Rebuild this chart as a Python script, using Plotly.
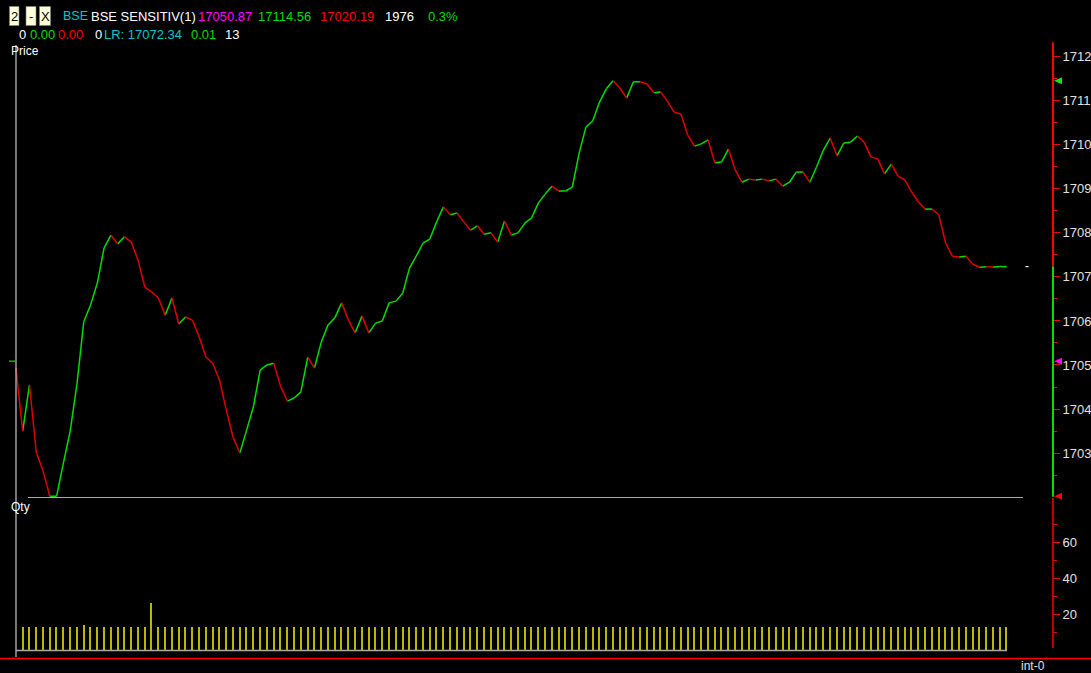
import plotly.graph_objects as go

# ---------------- data ----------------
price = [
    17049.3, 17035.0, 17045.5, 17030.2, 17025.9, 17020.2, 17020.2, 17027.7, 17035.0, 17045.7,
    17059.8, 17063.6, 17068.6, 17076.6, 17079.5, 17077.5, 17079.1, 17077.9, 17073.8, 17067.7,
    17066.6, 17065.2, 17061.3, 17065.2, 17059.3, 17060.9, 17060.2, 17056.4, 17051.8, 17050.4,
    17046.6, 17039.8, 17033.6, 17030.0, 17035.2, 17040.5, 17048.9, 17050.0, 17050.4, 17045.2,
    17041.8, 17042.5, 17043.9, 17051.8, 17049.3, 17055.2, 17059.1, 17060.7, 17064.1, 17060.2,
    17057.3, 17061.1, 17057.3, 17059.5, 17060.0, 17064.1, 17064.5, 17066.3, 17072.0, 17074.7,
    17077.7, 17078.6, 17082.5, 17085.9, 17084.1, 17084.5, 17082.5, 17080.6, 17081.6, 17079.7,
    17080.0, 17077.9, 17082.7, 17079.5, 17080.0, 17082.2, 17083.4, 17086.8, 17088.8, 17090.6,
    17089.5, 17089.5, 17090.4, 17098.1, 17104.0, 17105.4, 17109.7, 17112.7, 17114.56, 17112.9,
    17110.6, 17114.3, 17114.3, 17113.8, 17111.8, 17112.0, 17109.9, 17107.4, 17107.0, 17102.2,
    17099.7, 17100.2, 17101.1, 17095.9, 17096.1, 17099.0, 17094.3, 17091.5, 17092.2, 17092.0,
    17092.2, 17091.8, 17092.2, 17090.6, 17091.5, 17093.8, 17093.8, 17091.5, 17095.0, 17098.8,
    17101.5, 17097.5, 17100.4, 17100.6, 17102.0, 17100.6, 17097.2, 17096.8, 17093.4, 17095.6,
    17092.9, 17092.0, 17089.3, 17087.0, 17085.4, 17085.4, 17084.1, 17077.7, 17074.7, 17074.5,
    17074.7, 17072.9, 17072.2, 17072.3, 17072.25, 17072.34, 17072.34,
]

qty = [
    13, 13, 13, 13, 13, 13, 13, 13, 13, 14, 13, 13, 13, 13, 13, 13, 13, 13, 13, 26,
    13, 13, 13, 13, 13, 13, 13, 13, 13, 13, 13, 13, 13, 13, 13, 13, 13, 13, 13, 13,
    13, 13, 13, 13, 13, 13, 13, 13, 13, 13, 13, 13, 13, 13, 13, 13, 13, 13, 13, 13,
    13, 13, 13, 13, 13, 13, 13, 13, 13, 13, 13, 13, 13, 13, 13, 13, 13, 13, 13, 13,
    13, 13, 13, 13, 13, 13, 13, 13, 13, 13, 13, 13, 13, 13, 13, 13, 13, 13, 13, 13,
    13, 13, 13, 13, 13, 13, 13, 13, 13, 13, 13, 13, 13, 13, 13, 13, 13, 13, 13, 13,
    13, 13, 13, 13, 13, 13, 13, 13, 13, 13, 13, 13, 13, 13, 13, 13, 13, 13, 13, 13,
    13, 13, 13, 13, 13, 13,
]

OPEN, HIGH, LOW, LAST = 17050.87, 17114.56, 17020.19, 17072.34
price_ticks = [17030, 17040, 17050, 17060, 17070, 17080, 17090, 17100, 17110, 17120]
price_ticktext = ["1703", "1704", "1705", "1706", "1707", "1708", "1709", "1710", "1711", "1712"]
price_minor = [17025, 17035, 17045, 17055, 17065, 17075, 17085, 17095, 17105, 17115]
qty_ticks = [20, 40, 60]
qty_minor = [10, 30, 50, 70]

# ---------------- styling / layout constants ----------------
W, H = 1091, 673
FONT = "Liberation Sans, Arial, sans-serif"
GREEN = "#00dd00"
RED = "#e00000"


def px(x):
    return x / W


def py(y):
    return 1 - y / H


# pixel mapping of the axes
X0_PIX, X_STEP = 15.9, 6.786
Y_REF_PRICE, Y_REF_PIX, Y_SCALE = 17120, 56.7, 4.404
Q_BASE_PIX, Q_SCALE = 650, 1.8

x_range = [-X0_PIX / X_STEP, (W - X0_PIX) / X_STEP]
y_range = [Y_REF_PRICE - (H - Y_REF_PIX) / Y_SCALE, Y_REF_PRICE + Y_REF_PIX / Y_SCALE]
q_range = [-(H - Q_BASE_PIX) / Q_SCALE, Q_BASE_PIX / Q_SCALE]

# ---------------- traces ----------------
gx, gy, rx, ry = [], [], [], []
for i in range(len(price) - 1):
    if price[i + 1] >= price[i]:
        gx += [i, i + 1, None]
        gy += [price[i], price[i + 1], None]
    else:
        rx += [i, i + 1, None]
        ry += [price[i], price[i + 1], None]

fig = go.Figure()
fig.add_trace(go.Bar(
    x=list(range(1, len(qty) + 1)), y=qty, width=0.2,
    marker=dict(color="#b8b800", line=dict(width=0)),
    yaxis="y2", hoverinfo="skip", showlegend=False,
))
fig.add_trace(go.Scatter(x=gx, y=gy, mode="lines", line=dict(color=GREEN, width=1.5),
                         connectgaps=False, showlegend=False, hoverinfo="skip"))
fig.add_trace(go.Scatter(x=rx, y=ry, mode="lines", line=dict(color=RED, width=1.5),
                         connectgaps=False, showlegend=False, hoverinfo="skip"))

# ---------------- shapes ----------------
shapes = []
AX = px(1053)
# left gray frame line
shapes.append(dict(type="line", xref="paper", yref="paper", x0=px(16), x1=px(16),
                   y0=py(45), y1=py(657), line=dict(color="#c8c8c8", width=1.2)))
# panel separator
shapes.append(dict(type="line", xref="paper", yref="paper", x0=px(28), x1=px(1023),
                   y0=py(497.5), y1=py(497.5), line=dict(color="#a8a8a8", width=1.2)))
# qty base line
shapes.append(dict(type="line", xref="paper", yref="paper", x0=px(16), x1=px(1007),
                   y0=py(650.5), y1=py(650.5), line=dict(color="#a8a8a8", width=1.6)))
# bottom red line
shapes.append(dict(type="line", xref="paper", yref="paper", x0=0, x1=1,
                   y0=py(658.5), y1=py(658.5), line=dict(color="#ff0000", width=1.5)))
# price axis line (red above last, green below)
shapes.append(dict(type="line", xref="paper", yref="y", x0=AX, x1=AX,
                   y0=LAST, y1=17123.3, line=dict(color="#ff0000", width=2)))
shapes.append(dict(type="line", xref="paper", yref="y", x0=AX, x1=AX,
                   y0=LOW - 0.1, y1=LAST, line=dict(color="#00dd00", width=2)))
# qty axis line
shapes.append(dict(type="line", xref="paper", yref="paper", x0=AX, x1=AX,
                   y0=py(498), y1=py(648), line=dict(color="#ff0000", width=1.5)))


# markers on the axis
def tri(val, color):
    d = 3.5 / Y_SCALE
    return dict(type="path", xref="paper", yref="y",
                path=f"M {px(1054)},{val} L {px(1062)},{val + d} L {px(1062)},{val - d} Z",
                fillcolor=color, line=dict(color=color, width=0))


shapes.append(tri(HIGH, "#00ee00"))
shapes.append(tri(OPEN, "#ff00ff"))
shapes.append(tri(LOW, "#ff0000"))
# open tick on the left and last-price dash on the right
shapes.append(dict(type="line", xref="paper", yref="y", x0=px(9), x1=px(15),
                   y0=OPEN, y1=OPEN, line=dict(color="#00dd00", width=1.2)))
shapes.append(dict(type="line", xref="paper", yref="y", x0=px(1025.5), x1=px(1028.5),
                   y0=LAST, y1=LAST, line=dict(color="#ffffff", width=1.2)))
# header boxes
for (a, b) in [(9.5, 19), (26, 36), (39.5, 50.5)]:
    shapes.append(dict(type="rect", xref="paper", yref="paper", x0=px(a), x1=px(b),
                       y0=py(25.5), y1=py(6.5), fillcolor="#ffffd8",
                       line=dict(color="#808080", width=0.6), layer="below"))

# ---------------- annotations ----------------
ann = []


def txt(x, y, s, color, size=13, anchor="left"):
    ann.append(dict(text=s, x=px(x), y=py(y), xref="paper", yref="paper",
                    xanchor=anchor, yanchor="middle", showarrow=False,
                    font=dict(family=FONT, size=size, color=color)))


txt(14.3, 16, "2", "#000000", anchor="center")
txt(31, 16, "-", "#000000", anchor="center")
txt(45, 16, "X", "#000000", anchor="center")
txt(61, 16, "BSE", "#00c8c8", size=12.5)
txt(89, 16, "BSE SENSITIV(1)", "#ffffff")
txt(196, 16, f"{OPEN:.2f}", "#ff00ff")
txt(256, 16, f"{HIGH:.2f}", "#00dd00")
txt(318, 16, f"{LOW:.2f}", "#ff0000")
txt(383, 16, "1976", "#ffffff")
txt(426, 16, "0.3%", "#00dd00")

txt(17, 34, "0", "#ffffff")
txt(28, 34, "0.00", "#00dd00")
txt(56, 34, "0.00", "#ff0000")
txt(93, 34, "0", "#ffffff")
txt(102, 34, f"LR: {LAST:.2f}", "#00c8c8")
txt(189, 34, "0.01", "#00dd00")
txt(223, 34, str(qty[-1]), "#ffffff")

txt(9, 51, "Price", "#ffffff", size=12)
txt(9, 507, "Qty", "#ffffff", size=12)
txt(1019, 666, "int-0", "#e0e0e0", size=12)

# ---------------- layout ----------------
axis_font = dict(family=FONT, size=13, color="#e0e0e0")
fig.update_layout(
    width=W, height=H,
    margin=dict(l=0, r=0, t=0, b=0),
    paper_bgcolor="#000000", plot_bgcolor="#000000",
    showlegend=False,
    bargap=0,
    xaxis=dict(range=x_range, domain=[0, 1], visible=False, fixedrange=True),
    yaxis=dict(range=y_range, domain=[0, 1], side="right", anchor="free", position=AX,
               showgrid=False, zeroline=False, showline=False,
               tickmode="array", tickvals=price_ticks, ticktext=price_ticktext,
               ticks="outside", ticklen=6, tickwidth=1, tickcolor="#ff0000",
               tickfont=axis_font,
               minor=dict(tickmode="array", tickvals=price_minor, ticks="outside",
                          ticklen=3, tickwidth=1, tickcolor="#ff0000", showgrid=False)),
    yaxis2=dict(range=q_range, overlaying="y", side="right", anchor="free", position=AX,
                showgrid=False, zeroline=False, showline=False,
                tickmode="array", tickvals=qty_ticks, ticktext=[str(v) for v in qty_ticks],
                ticks="outside", ticklen=6, tickwidth=1, tickcolor="#ff0000",
                tickfont=axis_font,
                minor=dict(tickmode="array", tickvals=qty_minor, ticks="outside",
                           ticklen=3, tickwidth=1, tickcolor="#ff0000", showgrid=False)),
    shapes=shapes,
    annotations=ann,
)

fig.write_html(
    "out.html",
    config={"displayModeBar": False},
    post_script=("document.body.style.margin='0';"
                 "document.body.style.padding='0';"
                 "document.body.style.overflow='hidden';"
                 "document.body.style.background='#000';"),
)
